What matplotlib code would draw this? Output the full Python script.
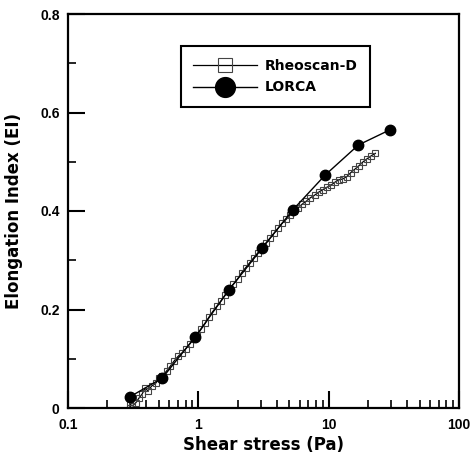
import matplotlib
matplotlib.use("Agg")
import matplotlib.pyplot as plt
from matplotlib.ticker import LogLocator, NullFormatter, FixedLocator

plt.rcParams['font.family'] = ['Liberation Sans', 'DejaVu Sans']
plt.rcParams['font.weight'] = 'bold'

# LORCA data
lorca_x = [0.30, 0.53, 0.95, 1.72, 3.1, 5.3, 9.4, 16.9, 29.6]
lorca_y = [0.023, 0.061, 0.145, 0.240, 0.325, 0.402, 0.473, 0.534, 0.565]

# Rheoscan-D data
rheo_x = [0.30, 0.30, 0.31, 0.33, 0.35, 0.37, 0.39, 0.41, 0.44, 0.47, 0.50, 0.53,
          0.57, 0.61, 0.65, 0.70, 0.75, 0.80, 0.86, 0.92, 0.98, 1.05, 1.13,
          1.21, 1.30, 1.40, 1.50, 1.61, 1.73, 1.86, 2.00, 2.15, 2.31, 2.48,
          2.66, 2.86, 3.07, 3.30, 3.55, 3.81, 4.09, 4.39, 4.72, 5.07, 5.45,
          5.85, 6.28, 6.75, 7.25, 7.79, 8.36, 8.98, 9.65, 10.4, 11.1, 11.9,
          12.8, 13.8, 14.8, 15.9, 17.1, 18.4, 19.7, 21.2, 22.8]
rheo_y = [0.000, 0.008, 0.004, 0.010, 0.020, 0.028, 0.040, 0.035, 0.045, 0.050, 0.060, 0.065,
          0.075, 0.085, 0.095, 0.105, 0.112, 0.120, 0.130, 0.140, 0.148, 0.160, 0.172,
          0.185, 0.197, 0.208, 0.218, 0.230, 0.242, 0.252, 0.262, 0.275, 0.285, 0.295,
          0.305, 0.315, 0.325, 0.335, 0.345, 0.355, 0.365, 0.375, 0.383, 0.392, 0.400,
          0.407, 0.414, 0.420, 0.427, 0.432, 0.438, 0.443, 0.448, 0.452, 0.458, 0.463,
          0.465, 0.470, 0.478, 0.485, 0.492, 0.500, 0.506, 0.512, 0.517]

x_ticks = [0.1, 1, 10, 100]
x_tick_labels = ['0.1', '1', '10', '100']
y_ticks = [0, 0.2, 0.4, 0.6, 0.8]
y_tick_labels = ['0', '0.2', '0.4', '0.6', '0.8']

fig = plt.figure(figsize=(4.73, 4.58), dpi=100)
ax = fig.add_axes([68/473, 1-408/458, (459-68)/473, (408-14)/458])

ax.plot(rheo_x, rheo_y, color='black', lw=0.9, marker='s', ms=5,
        mfc='none', mec='#444444', mew=0.8, label='Rheoscan-D', zorder=2)
ax.plot(lorca_x, lorca_y, color='black', lw=1.0, marker='o', ms=7.5,
        mfc='black', mec='black', label='LORCA', zorder=3)

ax.set_xscale('log')
ax.set_xlim(0.1, 100)
ax.set_ylim(0, 0.8)

ax.xaxis.set_major_locator(FixedLocator(x_ticks))
ax.set_xticklabels(x_tick_labels)
ax.xaxis.set_minor_locator(LogLocator(base=10, subs=range(2, 10)))
ax.xaxis.set_minor_formatter(NullFormatter())
ax.set_yticks(y_ticks)
ax.set_yticklabels(y_tick_labels)
ax.yaxis.set_minor_locator(FixedLocator([0.1, 0.3, 0.5, 0.7]))

ax.tick_params(which='major', direction='in', length=12, width=1.5, labelsize=10, pad=6)
ax.tick_params(axis='x', which='major', pad=7)
ax.tick_params(which='minor', direction='in', length=6, width=1.2)
ax.tick_params(axis='x', which='both', top=False)
ax.tick_params(axis='y', which='both', right=False)
for s in ax.spines.values():
    s.set_linewidth(1.6)

ax.set_xlabel('Shear stress (Pa)', fontsize=12, fontweight='bold', labelpad=3,
              family='DejaVu Sans')
ax.set_ylabel('Elongation Index (EI)', fontsize=12, fontweight='bold', labelpad=12,
              family='DejaVu Sans')

leg = ax.legend(loc='upper left', bbox_to_anchor=(0.289, 0.918), frameon=True,
                fancybox=False, edgecolor='black', framealpha=1,
                prop={'family': 'DejaVu Sans', 'weight': 'bold', 'size': 10},
                handlelength=4.6, markerscale=1.9, borderpad=0.9, labelspacing=0.55,
                handletextpad=0.5, borderaxespad=0)
leg.get_frame().set_linewidth(1.5)

fig.savefig('out.png', dpi=100)
